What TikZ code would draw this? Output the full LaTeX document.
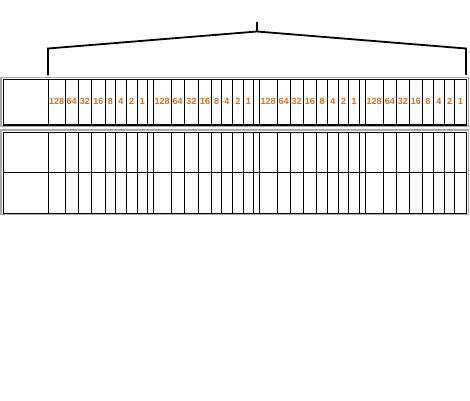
\documentclass[tikz,border=0pt]{standalone}
\usepackage{fontspec}
\setmainfont{Liberation Sans}
\definecolor{bitorange}{RGB}{214,112,40}
\definecolor{framegray}{RGB}{170,170,170}
\tikzset{
  cellline/.style={black, line width=1pt},
  outerframe/.style={draw=black, line width=1.3pt},
  shadowframe/.style={draw=framegray, line width=1.5pt},
  bitlabel/.style={text=bitorange, font=\bfseries\fontsize{9}{10}\selectfont, inner sep=0pt},
  bracketline/.style={black, line width=1.8pt}
}
\begin{document}
\begin{tikzpicture}[x=1pt,y=-1pt]
\useasboundingbox (0,0) rectangle (470,400);
% bracket
\coordinate (btop) at (257,22);
\coordinate (bmid) at (257,31.5);
\coordinate (bl) at (48,48.5);
\coordinate (blb) at (48,75);
\coordinate (br) at (466,48.5);
\coordinate (brb) at (466,75);
\draw[bracketline] (btop) -- (bmid);
\draw[bracketline, line join=miter] (blb) -- (bl) -- (bmid) -- (br) -- (brb);
% tables frames
\draw[shadowframe] (1.2,77.6) rectangle (468.3,126);
\draw[shadowframe] (1.2,130) rectangle (468.3,214.3);
\node[outerframe, minimum width=463pt, minimum height=45.3pt, anchor=north west, inner sep=0pt] (toptable) at (3,79) {};
\node[outerframe, minimum width=463pt, minimum height=81.2pt, anchor=north west, inner sep=0pt] (bottable) at (3,131.5) {};
\draw[cellline] (3,172.3) -- (466,172.3);
% column boundaries
\foreach \x in {48.3,65,78.3,91.5,105.3,115.3,126.3,137,147.7,153.3,
                171,184.3,198.3,211.7,221.3,232.3,243.3,253.3,259,
                277.3,290,303,316.7,327.3,338.3,348.7,359.3,365,
                383.3,396.3,409.3,422.3,433.3,444.3,454.7}{
  \draw[cellline] (\x,79) -- (\x,124.3);
  \draw[cellline] (\x,131.5) -- (\x,212.7);
}
% labels
\foreach \g/\a/\b/\c/\d/\e/\f/\h/\i/\j in {
  1/48.3/65/78.3/91.5/105.3/115.3/126.3/137/147.7,
  2/153.3/171/184.3/198.3/211.7/221.3/232.3/243.3/253.3,
  3/259/277.3/290/303/316.7/327.3/338.3/348.7/359.3,
  4/365/383.3/396.3/409.3/422.3/433.3/444.3/454.7/466}{
  \node[bitlabel] (b\g-128) at ({(\a+\b)/2},101.8) {128};
  \node[bitlabel] (b\g-64) at ({(\b+\c)/2},101.8) {64};
  \node[bitlabel] (b\g-32) at ({(\c+\d)/2},101.8) {32};
  \node[bitlabel] (b\g-16) at ({(\d+\e)/2},101.8) {16};
  \node[bitlabel] (b\g-8) at ({(\e+\f)/2},101.8) {8};
  \node[bitlabel] (b\g-4) at ({(\f+\h)/2},101.8) {4};
  \node[bitlabel] (b\g-2) at ({(\h+\i)/2},101.8) {2};
  \node[bitlabel] (b\g-1) at ({(\i+\j)/2},101.8) {1};
}
\end{tikzpicture}
\end{document}
